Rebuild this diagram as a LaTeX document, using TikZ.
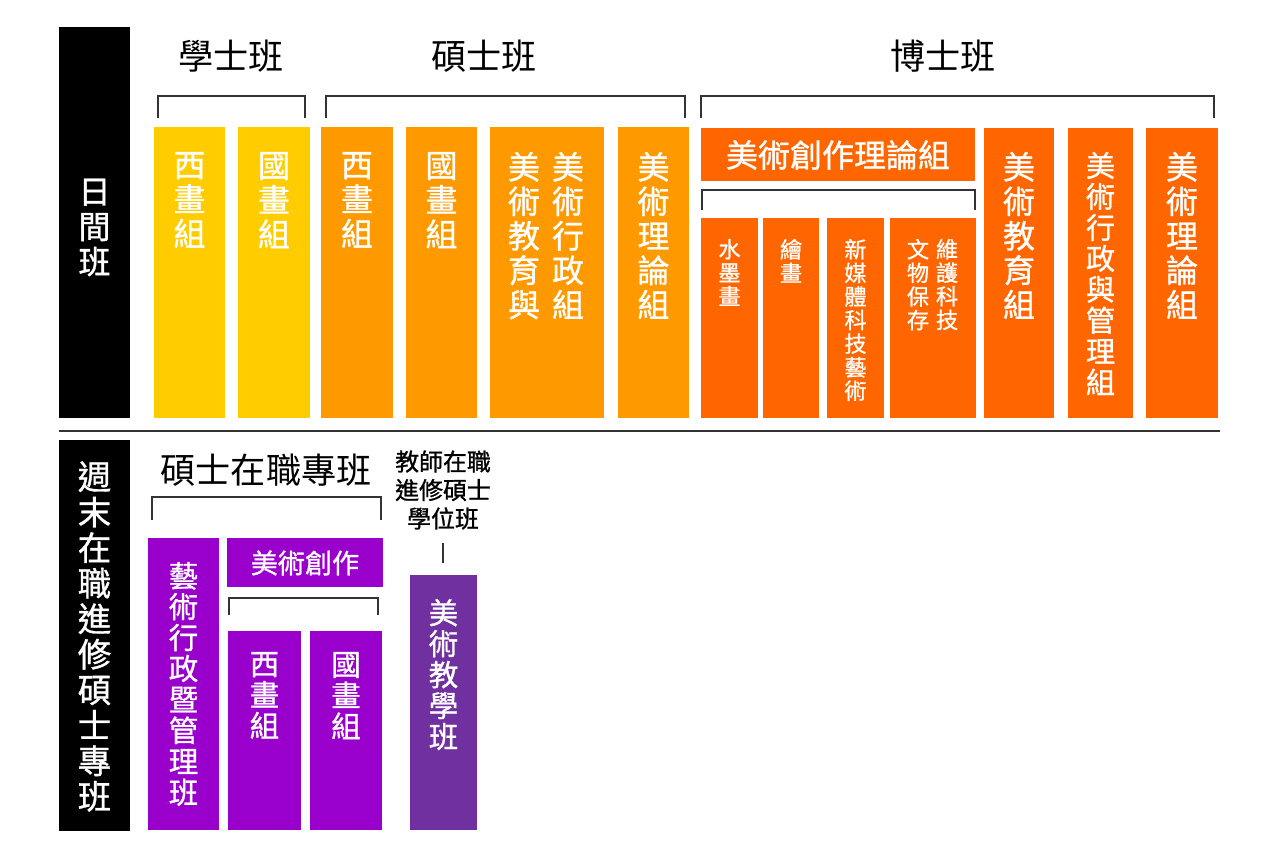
\documentclass[tikz,border=0pt]{standalone}
\usepackage{fontspec}
\newfontfamily\cjk{Noto Sans CJK TC}
\newfontfamily\cjkm[FakeBold=1]{Noto Sans CJK TC}
\usetikzlibrary{fit,calc}
\definecolor{yel}{HTML}{FFCC00}
\definecolor{org}{HTML}{FF9900}
\definecolor{dorg}{HTML}{FF6600}
\definecolor{pur}{HTML}{9900CC}
\definecolor{mpur}{HTML}{7030A0}
\definecolor{ln}{HTML}{333333}
\newcommand\fixls{\lineskip=0pt\lineskiplimit=-100pt}
\begin{document}
\begin{tikzpicture}[x=0.01cm,y=-0.01cm,
  box/.style={fill=#1, draw=none, inner sep=0pt, outer sep=0pt},
  vt/.style={inner sep=0pt, outer sep=0pt, align=center, anchor=north, text=white},
  tbig/.style={vt, font=\cjkm\fontsize{9.1pt}{9.8pt}\selectfont\fixls},
  tmid/.style={vt, font=\cjkm\fontsize{8.3pt}{8.8pt}\selectfont\fixls},
  tsml/.style={vt, font=\cjkm\fontsize{6.3pt}{6.7pt}\selectfont\fixls},
  tpur/.style={vt, font=\cjkm\fontsize{8.4pt}{8.8pt}\selectfont\fixls},
  head/.style={inner sep=0pt, font=\cjk\fontsize{10pt}{12pt}\selectfont},
  brk/.style={draw=ln, line width=1.5pt*0.2845},
]
\useasboundingbox[fill=white] (0,0) rectangle (1280,860);

% ---------- left bars
\node[box=black, fit={(59,27) (130,418)}] (bar1) {};
\node[vt, anchor=center, font=\cjkm\fontsize{9.1pt}{10pt}\selectfont\fixls] (bar1t) at ($(bar1.center)+(0,5)$) {日\\間\\班};
\node[box=black, fit={(59,440) (130,831)}] (bar2) {};
\node[vt, anchor=center, font=\cjkm\fontsize{9.5pt}{10.1pt}\selectfont\fixls] (bar2t) at ($(bar2.center)+(0,1)$) {週\\末\\在\\職\\進\\修\\碩\\士\\專\\班};

% ---------- headings
\node[head] (h1) at (231,56) {學士班};
\node[head] (h2) at (484,56) {碩士班};
\node[head] (h3) at (943,56) {博士班};

% brackets
\draw[brk] (158,118) |- (305,96) -- (305,118);
\draw[brk] (326,118) |- (685,96) -- (685,118);
\draw[brk] (701,118) |- (1214,96) -- (1214,118);

% ---------- top boxes
\node[box=yel, fit={(154,127) (225,418)}] (a1) {};
\node[tbig] (a1t) at (189.5,152) {西\\畫\\組};
\node[box=yel, fit={(238,127) (310,418)}] (a2) {};
\node[tbig] (a2t) at (274,152) {國\\畫\\組};

\node[box=org, fit={(321,127) (393,418)}] (m1) {};
\node[tbig] (m1t) at (357,152) {西\\畫\\組};
\node[box=org, fit={(406,127) (477,418)}] (m2) {};
\node[tbig] (m2t) at (441.5,152) {國\\畫\\組};
\node[box=org, fit={(490,127) (604,418)}] (m3) {};
\node[tbig] (m3l) at (524,152) {美\\術\\教\\育\\與};
\node[tbig] (m3r) at (568,152) {美\\術\\行\\政\\組};
\node[box=org, fit={(618,127) (689,418)}] (m4) {};
\node[tbig] (m4t) at (653.5,152) {美\\術\\理\\論\\組};

\node[box=dorg, fit={(701,128) (975,181)}] (d0) {};
\node[inner sep=0pt, text=white, font=\cjkm\fontsize{9.1pt}{10pt}\selectfont] (d0t) at (838,155) {美術創作理論組};
\draw[brk] (702,210) |- (975,190) -- (975,210);
\node[box=dorg, fit={(701,218) (758,418)}] (d1) {};
\node[tsml] (d1t) at (729.5,239) {水\\墨\\畫};
\node[box=dorg, fit={(763,218) (819,418)}] (d2) {};
\node[tsml] (d2t) at (791,239) {繪\\畫};
\node[box=dorg, fit={(827,218) (884,418)}] (d3) {};
\node[tsml] (d3t) at (855.5,239) {新\\媒\\體\\科\\技\\藝\\術};
\node[box=dorg, fit={(890,218) (976,418)}] (d4) {};
\node[tsml] (d4l) at (918,239) {文\\物\\保\\存};
\node[tsml] (d4r) at (947,239) {維\\護\\科\\技};

\node[box=dorg, fit={(984,128) (1054,418)}] (d5) {};
\node[tbig] (d5t) at (1019,152) {美\\術\\教\\育\\組};
\node[box=dorg, fit={(1068,128) (1133,418)}] (d6) {};
\node[tmid] (d6t) at (1100.5,152) {美\\術\\行\\政\\與\\管\\理\\組};
\node[box=dorg, fit={(1146,128) (1218,418)}] (d7) {};
\node[tbig] (d7t) at (1182,152) {美\\術\\理\\論\\組};

% ---------- divider
\draw[draw=ln, line width=2pt*0.2845] (59,431) -- (1220,431);

% ---------- bottom
\node[head] (h4) at (266,470) {碩士在職專班};
\draw[brk] (152,520) |- (381,497) -- (381,520);

\node[box=pur, fit={(148,538) (219,830)}] (p1) {};
\node[tpur] (p1t) at (183.5,562) {藝\\術\\行\\政\\暨\\管\\理\\班};
\node[box=pur, fit={(227,538) (383,587)}] (p0) {};
\node[inner sep=0pt, text=white, font=\cjkm\fontsize{7.7pt}{9pt}\selectfont] (p0t) at (305,563) {美術創作};
\draw[brk] (229,615) |- (378,598) -- (378,615);
\node[box=pur, fit={(228,631) (301,830)}] (p2) {};
\node[tpur] (p2t) at (264.5,652) {西\\畫\\組};
\node[box=pur, fit={(310,631) (382,830)}] (p3) {};
\node[tpur] (p3t) at (346,652) {國\\畫\\組};

\node[inner sep=0pt, align=center, font=\cjkm\fontsize{6.8pt}{8.1pt}\selectfont\fixls] (tc) at (443,490) {教師在職\\進修碩士\\學位班};
\draw[brk] (443,543) -- (443,563);
\node[box=mpur, fit={(410,575) (477,830)}] (q1) {};
\node[tpur] (q1t) at (443.5,599) {美\\術\\教\\學\\班};
\end{tikzpicture}
\end{document}
